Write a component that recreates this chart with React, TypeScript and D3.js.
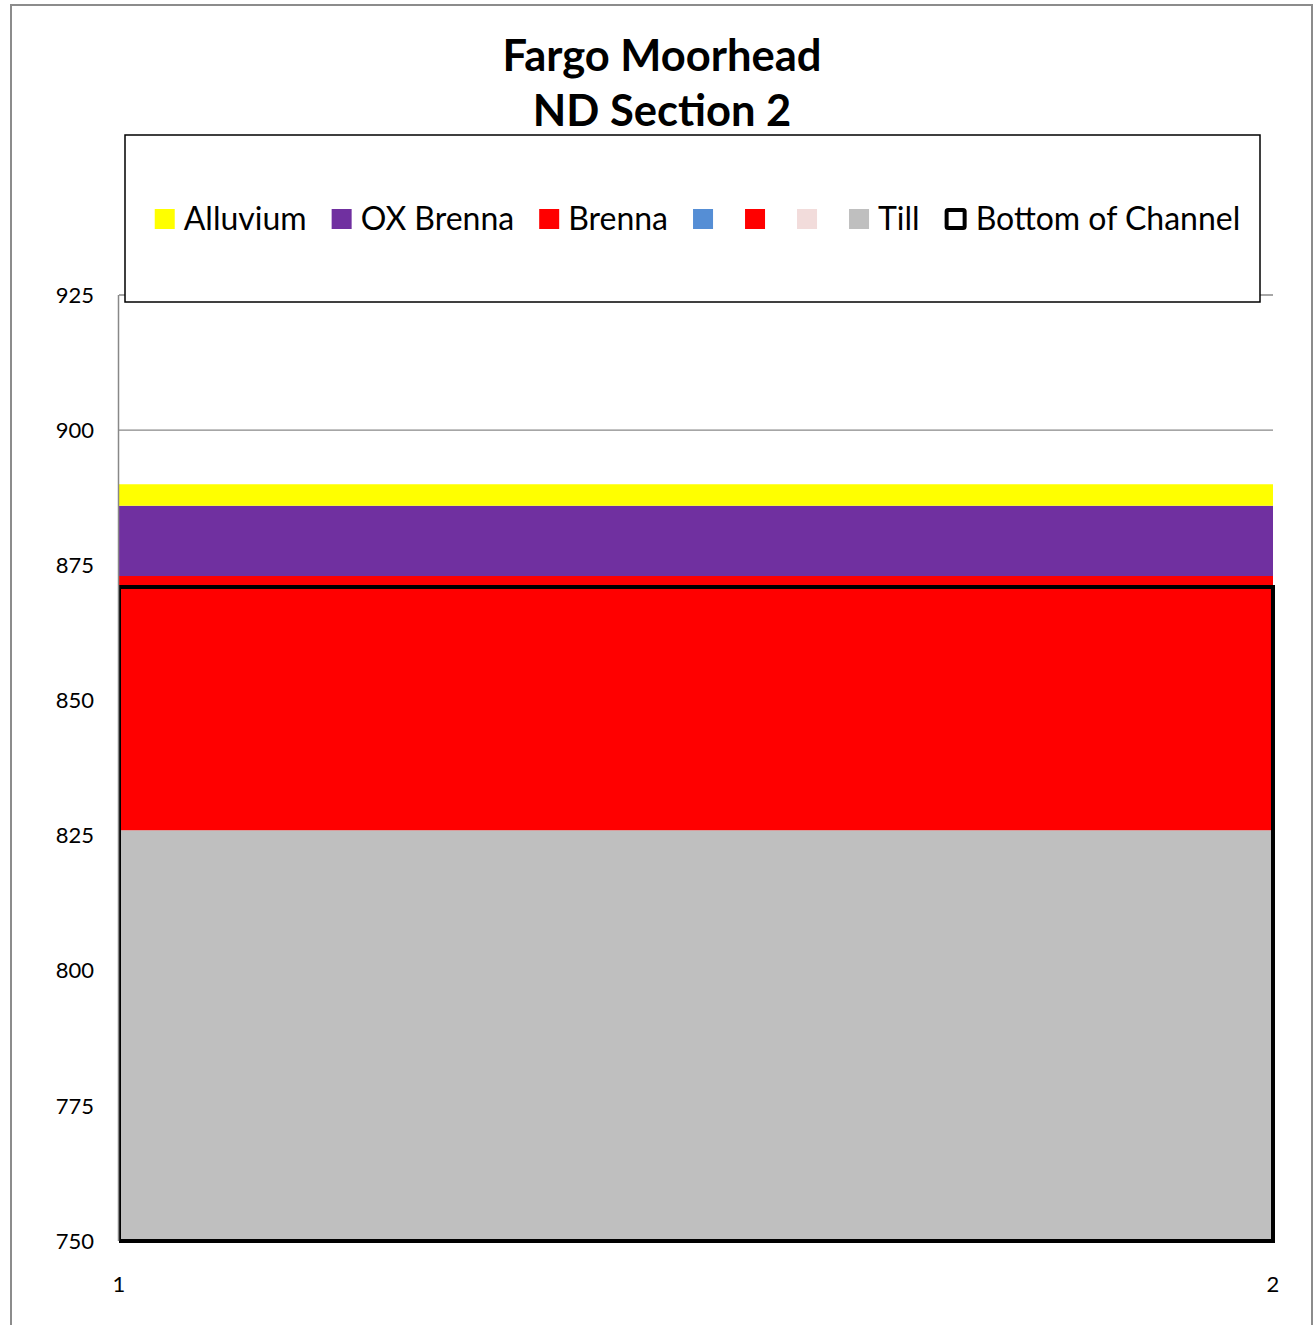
import React, { useEffect, useRef } from "react";
import * as d3 from "d3";

const categories = [1, 2];
const seriesNames = ["Alluvium", "OX Brenna", "Brenna", "", "", "", "Till"];
const seriesColors = ["#FFFF00", "#7030A0", "#FF0000", "#558ED5", "#FF0000", "#F2DCDB", "#BFBFBF"];
// layer thickness values (stacked from the bottom: Till first)
const alluvium = [4, 4];
const oxBrenna = [13, 13];
const brenna = [47, 47];
const blueSeries = [0, 0];
const redSeries = [0, 0];
const pinkSeries = [0, 0];
const till = [826, 826];
const bottomOfChannel = [871, 871];
const yTicks = [750, 775, 800, 825, 850, 875, 900, 925];
const titleLines = ["Fargo Moorhead", "ND Section 2"];

const W = 1314;
const H = 1325;

export default function App() {
  const ref = useRef<SVGSVGElement>(null);

  useEffect(() => {
    const svg = d3.select(ref.current);
    svg.selectAll("*").remove();

    const font = "Lato, 'Open Sans', sans-serif";
    const left = 119, right = 1273, top = 295, bottom = 1241;

    const x = d3.scaleLinear().domain([1, 2]).range([left, right]);
    const y = d3.scaleLinear().domain([750, 925]).range([bottom, top]);

    // outer border
    svg.append("rect").attr("x", 11).attr("y", 5).attr("width", 1301).attr("height", 1340)
      .attr("fill", "white").attr("stroke", "#8c8c8c").attr("stroke-width", 2);

    // title
    const title = svg.append("text").attr("text-anchor", "middle").attr("font-family", font)
      .attr("font-weight", "bold").attr("font-size", 43.5).attr("fill", "#000");
    titleLines.forEach((t, i) => {
      title.append("tspan").attr("x", 662).attr("y", 71 + i * 55).text(t);
    });

    // gridlines
    svg.append("g").selectAll("line").data(yTicks.filter((t) => t !== 750)).join("line")
      .attr("x1", left).attr("x2", right)
      .attr("y1", (d) => y(d)).attr("y2", (d) => y(d))
      .attr("stroke", "#888888").attr("stroke-width", 1.3);

    // stacked areas
    const rows = categories.map((c, i) => ({
      cat: c,
      till: till[i], pink: pinkSeries[i], red: redSeries[i], blue: blueSeries[i],
      brenna: brenna[i], ox: oxBrenna[i], alluvium: alluvium[i],
    }));
    const keys = ["till", "pink", "red", "blue", "brenna", "ox", "alluvium"];
    const keyColor: Record<string, string> = {
      till: seriesColors[6], pink: seriesColors[5], red: seriesColors[4], blue: seriesColors[3],
      brenna: seriesColors[2], ox: seriesColors[1], alluvium: seriesColors[0],
    };
    const stack = d3.stack<any>().keys(keys);
    const layers = stack(rows);
    const area = d3.area<any>()
      .x((d) => x(d.data.cat))
      .y0((d) => y(Math.max(750, d[0])))
      .y1((d) => y(Math.max(750, d[1])));
    svg.append("g").selectAll("path").data(layers).join("path")
      .attr("d", (d) => area(d as any))
      .attr("fill", (d) => keyColor[d.key]);

    // bottom of channel (outlined area)
    svg.append("clipPath").attr("id", "clipL").append("rect")
      .attr("x", left).attr("y", 0).attr("width", W).attr("height", H);
    const chanArea = d3.area<number>()
      .x((_, i) => x(categories[i]))
      .y0(() => y(750))
      .y1((d) => y(d));
    const chanPts = chanArea(bottomOfChannel) as string;
    svg.append("path").attr("d", chanPts).attr("fill", "none").attr("stroke", "#000")
      .attr("stroke-width", 4).attr("clip-path", "url(#clipL)");

    // y axis line
    svg.append("line").attr("x1", left - 0.5).attr("x2", left - 0.5).attr("y1", top).attr("y2", bottom)
      .attr("stroke", "#888888").attr("stroke-width", 1.5);

    // y tick labels
    svg.append("g").selectAll("text").data(yTicks).join("text")
      .attr("x", 94).attr("y", (d) => y(d)).attr("dy", "0.35em")
      .attr("text-anchor", "end").attr("font-family", font).attr("font-size", 22)
      .attr("fill", "#000").text((d) => String(d));

    // x tick labels
    svg.append("g").selectAll("text").data(categories).join("text")
      .attr("x", (d) => x(d)).attr("y", 1284).attr("dy", "0.35em")
      .attr("text-anchor", "middle").attr("font-family", font).attr("font-size", 22)
      .attr("fill", "#000").text((d) => String(d));

    // legend box
    const lbX = 125, lbY = 135, lbW = 1135, lbH = 167;
    svg.append("rect").attr("x", lbX).attr("y", lbY).attr("width", lbW).attr("height", lbH)
      .attr("fill", "white").attr("stroke", "#000").attr("stroke-width", 1.5);

    const lg = svg.append("g");
    const cy = 219;
    const items = [
      ...seriesNames.map((n, i) => ({ name: n, color: seriesColors[i], outline: false })),
      { name: "Bottom of Channel", color: "none", outline: true },
    ];
    let cx = 0;
    items.forEach((it, idx) => {
      const g = lg.append("g");
      if (it.outline) {
        g.append("rect").attr("x", cx + 2).attr("y", cy - 9).attr("width", 18).attr("height", 18)
          .attr("fill", "white").attr("stroke", "#000").attr("stroke-width", 4).attr("rx", 1.5);
      } else {
        g.append("rect").attr("x", cx).attr("y", cy - 10).attr("width", 20).attr("height", 20)
          .attr("fill", it.color);
      }
      cx += it.outline ? 31 : 29;
      if (it.name) {
        const t = g.append("text").attr("x", cx).attr("y", cy).attr("dy", "0.35em")
          .attr("font-family", font).attr("font-size", 32).attr("fill", "#000").text(it.name);
        const w = (t.node() as SVGTextElement).getComputedTextLength();
        cx += w + (idx < items.length - 1 ? 25 : 0);
      } else {
        cx += 23;
      }
    });
    const totalW = cx;
    const startX = lbX + lbW / 2 + 5 - totalW / 2;
    lg.attr("transform", `translate(${startX},0)`);
  }, []);

  return (
    <svg ref={ref} width={W} height={H}
      style={{ position: "absolute", left: 0, top: 0, background: "white" }} />
  );
}
